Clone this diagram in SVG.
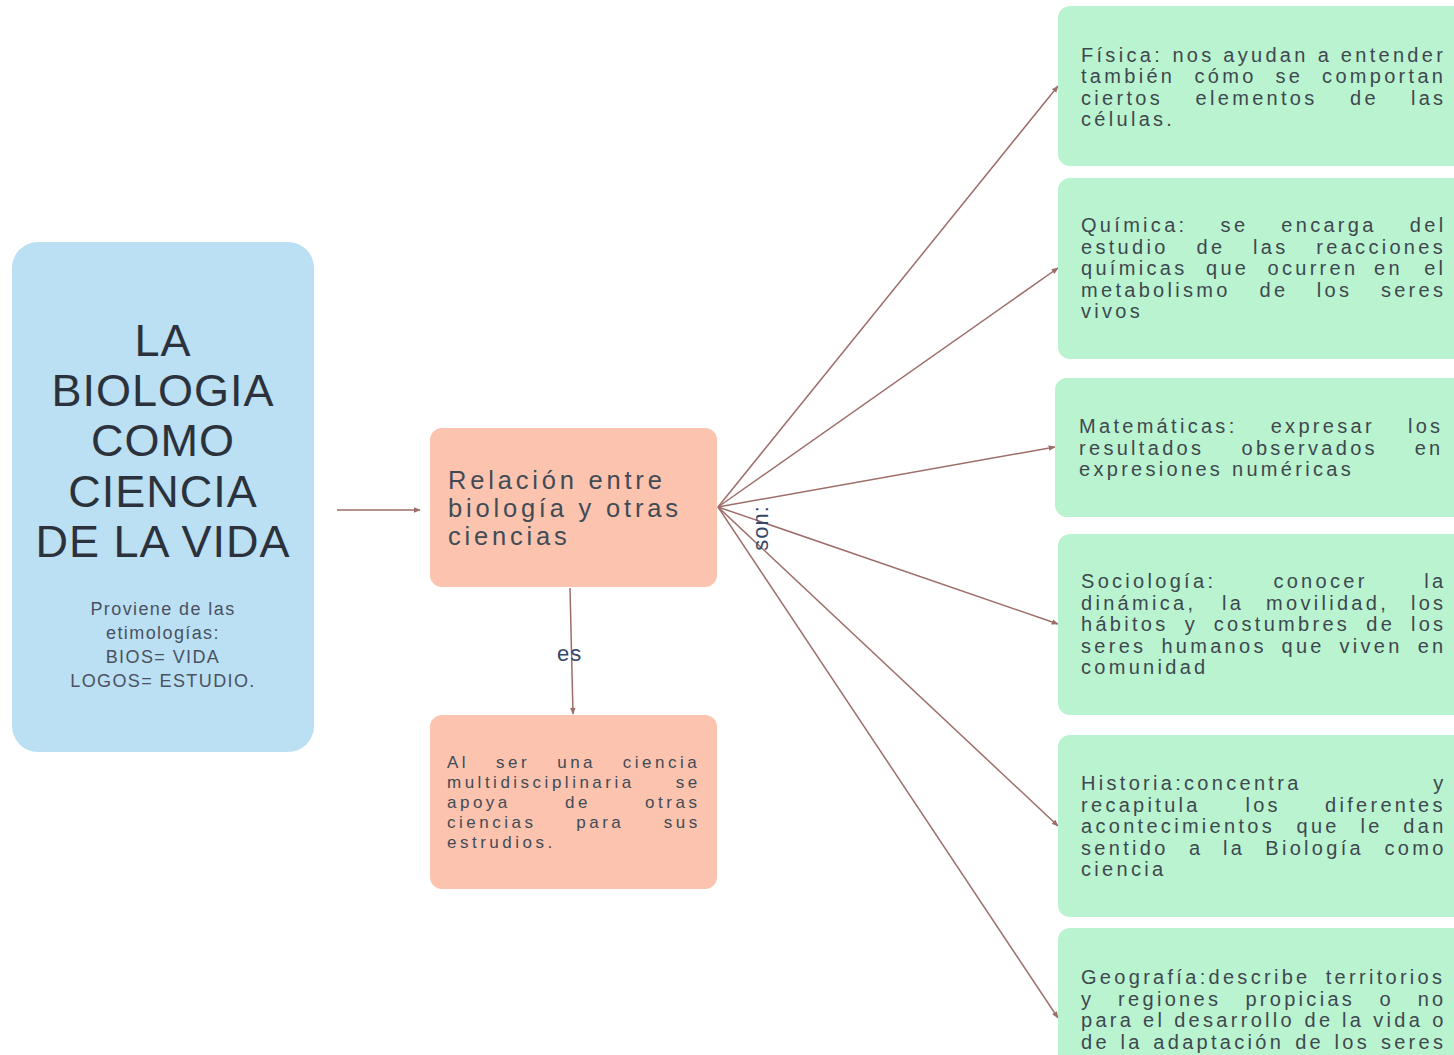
<svg xmlns="http://www.w3.org/2000/svg" width="1454" height="1055" viewBox="0 0 1454 1055">
<style>
text { font-family: "Liberation Sans", Arial, sans-serif; }
.blue { fill: #bbdff3; }
.salmon { fill: #fcc3af; }
.green { fill: #baf3d0; }
.t { font-size: 45px; letter-spacing: 1px; fill: #2b323c; text-anchor: middle; }
.s { font-size: 18px; letter-spacing: 1.4px; fill: #4a5260; text-anchor: middle; }
.c { font-size: 25.5px; letter-spacing: 3.8px; fill: #414b55; }
.b { font-size: 17px; letter-spacing: 3.5px; fill: #414b55; }
.r { font-size: 20px; letter-spacing: 3.3px; fill: #3e484f; }
.lbl { font-size: 22px; letter-spacing: 1px; fill: #34486a; }
.conn { stroke: #9d6e69; stroke-width: 1.5; fill: none; marker-end: url(#ah); }
</style>
<defs>
<marker id="ah" viewBox="0 0 10 10" refX="9" refY="5" markerWidth="7" markerHeight="7" markerUnits="userSpaceOnUse" orient="auto">
<path d="M0,1 L10,5 L0,9 z" fill="#9d6e69"/>
</marker>
</defs>
<rect width="1454" height="1055" fill="#ffffff"/>

<g id="connectors">
<line class="conn" x1="337" y1="510" x2="420" y2="510"/>
<line class="conn" x1="570" y1="588" x2="573" y2="714"/>
<line class="conn" x1="718" y1="507" x2="1058" y2="86"/>
<line class="conn" x1="718" y1="507" x2="1058" y2="268"/>
<line class="conn" x1="718" y1="507" x2="1055" y2="447"/>
<line class="conn" x1="718" y1="507" x2="1058" y2="624"/>
<line class="conn" x1="718" y1="507" x2="1058" y2="826"/>
<line class="conn" x1="718" y1="507" x2="1058" y2="1018"/>
<text class="lbl" x="557" y="661">es</text>
<text class="lbl" transform="translate(768,528) rotate(-90)" text-anchor="middle">son:</text>
</g>

<g id="n-biologia">
<rect class="blue" x="12" y="242" width="302" height="510" rx="26"/>
<text class="t" x="163" y="356">LA</text>
<text class="t" x="163" y="406">BIOLOGIA</text>
<text class="t" x="163" y="456">COMO</text>
<text class="t" x="163" y="507">CIENCIA</text>
<text class="t" x="163" y="557">DE LA VIDA</text>
<text class="s" x="163" y="615">Proviene de las</text>
<text class="s" x="163" y="639">etimologías:</text>
<text class="s" x="163" y="663">BIOS= VIDA</text>
<text class="s" x="163" y="687">LOGOS= ESTUDIO.</text>
</g>

<g id="n-relacion">
<rect class="salmon" x="430" y="428" width="287" height="159" rx="12"/>
<text class="c" x="448" y="489">Relación entre</text>
<text class="c" x="448" y="517">biología y otras</text>
<text class="c" x="448" y="545">ciencias</text>
</g>

<g id="n-multi">
<rect class="salmon" x="430" y="715" width="287" height="174" rx="12"/>
<text class="b" y="768"><tspan x="447">Al</tspan><tspan x="496.1">ser</tspan><tspan x="557.2">una</tspan><tspan x="622.8">ciencia</tspan></text>
<text class="b" y="788"><tspan x="447">multidisciplinaria</tspan><tspan x="675.8">se</tspan></text>
<text class="b" y="808"><tspan x="447">apoya</tspan><tspan x="565">de</tspan><tspan x="645.1">otras</tspan></text>
<text class="b" y="828"><tspan x="447">ciencias</tspan><tspan x="576.3">para</tspan><tspan x="663.7">sus</tspan></text>
<text class="b" x="447" y="848">estrudios.</text>
</g>

<g id="n-fisica">
<rect class="green" x="1058" y="6" width="420" height="160" rx="12"/>
<text class="r" y="61.5"><tspan x="1081">Física:</tspan><tspan x="1172.4">nos</tspan><tspan x="1223.3">ayudan</tspan><tspan x="1317.7">a</tspan><tspan x="1340.8">entender</tspan></text>
<text class="r" y="83"><tspan x="1081">también</tspan><tspan x="1194.5">cómo</tspan><tspan x="1275.4">se</tspan><tspan x="1322.1">comportan</tspan></text>
<text class="r" y="104.5"><tspan x="1081">ciertos</tspan><tspan x="1195.6">elementos</tspan><tspan x="1350">de</tspan><tspan x="1410.9">las</tspan></text>
<text class="r" x="1081" y="126">células.</text>
</g>

<g id="n-quimica">
<rect class="green" x="1058" y="178" width="420" height="181" rx="12"/>
<text class="r" y="232"><tspan x="1081">Química:</tspan><tspan x="1220.6">se</tspan><tspan x="1281.3">encarga</tspan><tspan x="1409.8">del</tspan></text>
<text class="r" y="253.5"><tspan x="1081">estudio</tspan><tspan x="1196.6">de</tspan><tspan x="1253">las</tspan><tspan x="1316.3">reacciones</tspan></text>
<text class="r" y="275"><tspan x="1081">químicas</tspan><tspan x="1206">que</tspan><tspan x="1267.5">ocurren</tspan><tspan x="1374">en</tspan><tspan x="1424.2">el</tspan></text>
<text class="r" y="296.5"><tspan x="1081">metabolismo</tspan><tspan x="1259.5">de</tspan><tspan x="1316.8">los</tspan><tspan x="1380.9">seres</tspan></text>
<text class="r" x="1081" y="318">vivos</text>
</g>

<g id="n-matematicas">
<rect class="green" x="1055" y="378" width="420" height="139" rx="12"/>
<text class="r" y="433"><tspan x="1079">Matemáticas:</tspan><tspan x="1270.7">expresar</tspan><tspan x="1407.9">los</tspan></text>
<text class="r" y="454.5"><tspan x="1079">resultados</tspan><tspan x="1241.5">observados</tspan><tspan x="1414.7">en</tspan></text>
<text class="r" x="1079" y="476">expresiones numéricas</text>
</g>

<g id="n-sociologia">
<rect class="green" x="1058" y="534" width="420" height="181" rx="12"/>
<text class="r" y="588"><tspan x="1081">Sociología:</tspan><tspan x="1273.4">conocer</tspan><tspan x="1424.2">la</tspan></text>
<text class="r" y="609.5"><tspan x="1081">dinámica,</tspan><tspan x="1222">la</tspan><tspan x="1266">movilidad,</tspan><tspan x="1410.9">los</tspan></text>
<text class="r" y="631"><tspan x="1081">hábitos</tspan><tspan x="1184.8">y</tspan><tspan x="1213.8">costumbres</tspan><tspan x="1366.3">de</tspan><tspan x="1410.9">los</tspan></text>
<text class="r" y="652.5"><tspan x="1081">seres</tspan><tspan x="1161.4">humanos</tspan><tspan x="1281.5">que</tspan><tspan x="1339.5">viven</tspan><tspan x="1417.7">en</tspan></text>
<text class="r" x="1081" y="674">comunidad</text>
</g>

<g id="n-historia">
<rect class="green" x="1058" y="735" width="420" height="182" rx="12"/>
<text class="r" y="790"><tspan x="1081">Historia:concentra</tspan><tspan x="1433.2">y</tspan></text>
<text class="r" y="811.5"><tspan x="1081">recapitula</tspan><tspan x="1245.4">los</tspan><tspan x="1325">diferentes</tspan></text>
<text class="r" y="833"><tspan x="1081">acontecimientos</tspan><tspan x="1296.5">que</tspan><tspan x="1360.4">le</tspan><tspan x="1403.3">dan</tspan></text>
<text class="r" y="854.5"><tspan x="1081">sentido</tspan><tspan x="1188.9">a</tspan><tspan x="1223.1">la</tspan><tspan x="1265.3">Biología</tspan><tspan x="1384.5">como</tspan></text>
<text class="r" x="1081" y="876">ciencia</text>
</g>

<g id="n-geografia">
<rect class="green" x="1058" y="928" width="420" height="200" rx="12"/>
<text class="r" y="984"><tspan x="1081">Geografía:describe</tspan><tspan x="1325.7">territorios</tspan></text>
<text class="r" y="1005.5"><tspan x="1081">y</tspan><tspan x="1118.1">regiones</tspan><tspan x="1245.4">propicias</tspan><tspan x="1379.6">o</tspan><tspan x="1417.7">no</tspan></text>
<text class="r" y="1027"><tspan x="1081">para</tspan><tspan x="1143.1">el</tspan><tspan x="1174.2">desarrollo</tspan><tspan x="1304.5">de</tspan><tspan x="1342.1">la</tspan><tspan x="1373.2">vida</tspan><tspan x="1432.2">o</tspan></text>
<text class="r" y="1048.5"><tspan x="1081">de</tspan><tspan x="1120.4">la</tspan><tspan x="1153.3">adaptación</tspan><tspan x="1295.2">de</tspan><tspan x="1334.6">los</tspan><tspan x="1380.9">seres</tspan></text>
</g>
</svg>
